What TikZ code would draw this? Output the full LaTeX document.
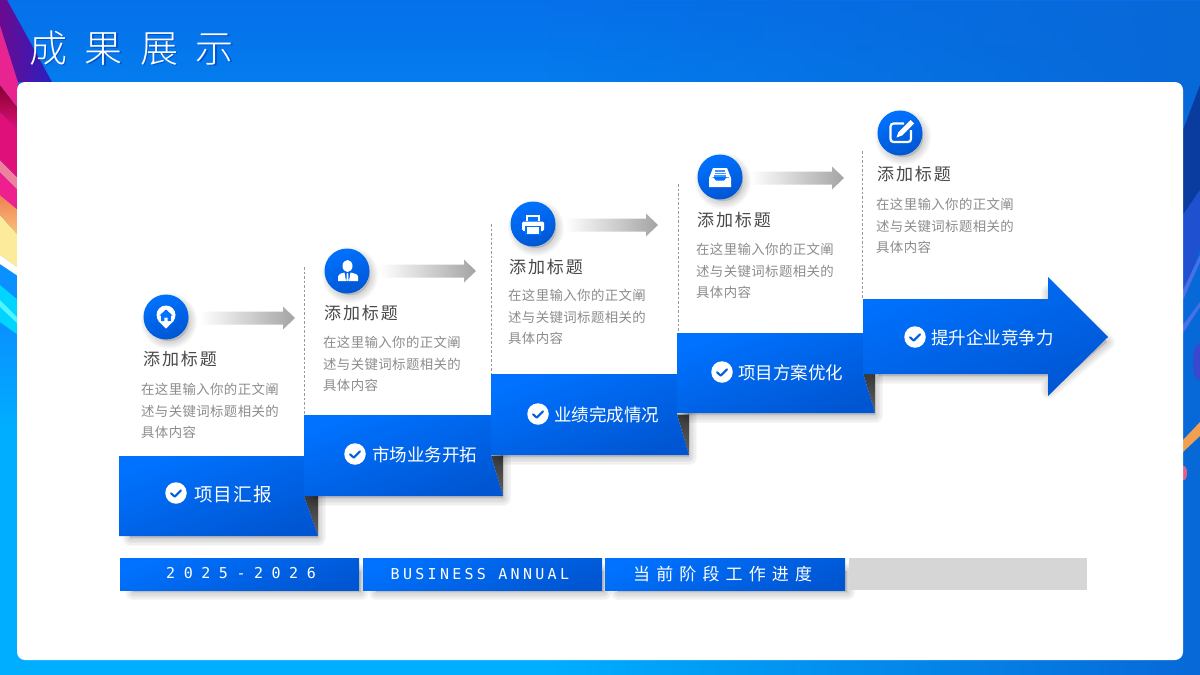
\documentclass[tikz,border=0pt]{standalone}
\usepackage{fontspec}
\usetikzlibrary{fadings,shadings}
\setmainfont{Noto Sans CJK SC}
\newfontfamily\ttl[LetterSpace=46]{Noto Sans CJK SC Light}
\newfontfamily\hd[LetterSpace=11]{Noto Sans CJK SC}
\newfontfamily\bd[LetterSpace=3]{Noto Sans CJK SC}
\newfontfamily\lb{Noto Sans CJK SC}
\newfontfamily\lbw[LetterSpace=6]{Noto Sans CJK SC}
\newfontfamily\bm[LetterSpace=36]{Noto Sans CJK SC}
\newfontfamily\dgt[LetterSpace=57]{DejaVu Sans Mono}
\newfontfamily\ltn[LetterSpace=22]{DejaVu Sans Mono}
\definecolor{bluetop}{HTML}{0072FF}
\definecolor{bluebot}{HTML}{0056D2}
\definecolor{bgtop}{HTML}{0570EA}
\definecolor{bgbot}{HTML}{00AEFF}
\definecolor{bgright}{HTML}{0868D8}
\definecolor{headc}{HTML}{484848}
\definecolor{bodyc}{HTML}{8C8C8C}
\tikzfading[name=fadeeast,left color=transparent!100,right color=transparent!0]
\tikzset{
  x=1pt,y=-1pt,
  bluefill/.style={top color=bluetop,bottom color=bluebot,shading angle=20,draw=none},
  head/.style={anchor=west,inner sep=0pt,text=headc,font=\hd\fontsize{17}{17}\selectfont},
  bodyt/.style={anchor=west,inner sep=0pt,text=bodyc,font=\bd\fontsize{13.4}{13.4}\selectfont},
  lab/.style={anchor=west,inner sep=0pt,text=white,font=\lb\fontsize{17.5}{17.5}\selectfont},
  barlab/.style={inner sep=0pt,text=white},
  dashln/.style={draw=black!40,line width=.8pt,dash pattern=on 2.5pt off 2pt},
  arrowgrad/.style={left color=white,middle color=black!14,right color=black!36,draw=none},
}
% soft shadow of a path: #1 dx, #2 dy, #3 path
\newcommand{\softsh}[3]{%
  \fill[black,opacity=.12,shift={(#1,#2)}] #3;
  \foreach \w in {16,13,10,7,4,1}{%
    \draw[black,opacity=.033,line width=\w pt,line join=round,shift={(#1,#2)}] #3;}}
\newcommand{\iconball}[3]{%
  \softsh{3}{4}{(#2,#3) circle[radius=20]}
  \node[circle,minimum size=45pt,inner sep=0pt,bluefill] (#1) at (#2,#3) {};}
\newcommand{\checkball}[3]{%
  \node[circle,fill=white,minimum size=21.5pt,inner sep=0pt] (#1) at (#2,#3) {};
  \draw[bluebot!70!bluetop,line width=2.1pt,line cap=round,line join=round,shift={(#2,#3)}] (-5,.3) -- (-1.3,3.6) -- (5,-2.6);}
\newcommand{\gradarrow}[4]{% name x0 x1 y
  \coordinate (#1) at (#3,#4);
  \path[arrowgrad] (#2,#4-6.5) -- (#3-12,#4-6.5) -- (#3-12,#4-11.5) -- (#3,#4) -- (#3-12,#4+11.5) -- (#3-12,#4+6.5) -- (#2,#4+6.5) -- cycle;}
\newcommand{\cardtext}[7]{% name title-x title-y body-x y1 y2 y3
  \node[head] (#1t) at (#2,#3) {添加标题};
  \node[bodyt] (#1a) at (#4,#5) {在这里输入你的正文阐};
  \node[bodyt] (#1b) at (#4,#6) {述与关键词标题相关的};
  \node[bodyt] (#1c) at (#4,#7) {具体内容};}
\newcommand{\stepblock}[5]{% x0 x1(fold) x2 y0 y1
  \pgfmathsetmacro{\ym}{(#4+#5)/2}
  \softsh{3}{5}{(#1+8,#4+8) -- (#3-3,#4+8) -- (#3-3,#5-3) -- (#1+8,#5-3) -- cycle}
  \path[top color=black!78,bottom color=black!62] (#2,\ym) -- (#3,\ym) -- (#3,#5) -- cycle;
  \path[bluefill] (#1,#4) -- (#2,#4) -- (#2,\ym) -- (#3,#5) -- (#1,#5) -- cycle;}
\begin{document}
\begin{tikzpicture}
\useasboundingbox (0,0) rectangle (1200,675);
% background
\fill[bgbot] (0,425) rectangle (1200,675);
\path[top color=bgtop,bottom color=bgbot] (0,0) rectangle (1200,430);
\fill[bgright,path fading=fadeeast] (550,0) rectangle (1200,675);
% left colours
\definecolor{cA}{HTML}{0A90FF}\definecolor{cB}{HTML}{00D4FF}\definecolor{cC}{HTML}{50F4FF}
\path[top color=cA,bottom color=bgbot] (0,322) -- (18,335) -- (18,430) -- (0,430) -- cycle;
\fill[cA] (0,264) -- (18,276) -- (18,300) -- (0,285) -- cycle;
\fill[cB] (0,285) -- (18,300) -- (18,335) -- (0,322) -- cycle;
\fill[cC] (0,300) -- (18,318) -- (18,324) -- (0,307) -- cycle;
\definecolor{cD}{HTML}{FCEB9A}\definecolor{cE}{HTML}{F07F55}\definecolor{cF}{HTML}{F8C478}
\fill[cD] (0,215) -- (18,235) -- (18,268) -- (0,255) -- cycle;
\fill[white] (0,255) -- (18,268) -- (18,276) -- (0,264) -- cycle;
\path[top color=cE,bottom color=cF] (0,195) -- (18,210) -- (18,235) -- (0,215) -- cycle;
\definecolor{cG}{HTML}{EE2090}\definecolor{cH}{HTML}{F080A0}\definecolor{cI}{HTML}{E0107A}\definecolor{cJ}{HTML}{85002E}
\fill[cG] (0,172) -- (18,190) -- (18,210) -- (0,195) -- cycle;
\fill[cH] (0,160) -- (18,178) -- (18,190) -- (0,172) -- cycle;
\fill[cI] (0,112) -- (18,130) -- (18,178) -- (0,160) -- cycle;
\path[top color=cJ,bottom color=cI] (0,85) -- (18,108) -- (18,130) -- (0,112) -- cycle;
\definecolor{cK}{HTML}{E82490}\definecolor{cL}{HTML}{6A0A90}\definecolor{cM}{HTML}{2A20C0}
\fill[cK] (0,25) -- (18,82) -- (18,108) -- (0,85) -- cycle;
\path[left color=cL,right color=cM] (0,0) -- (7,0) -- (52,82) -- (18,82) -- (0,25) -- cycle;
% right colours
\definecolor{rA}{HTML}{0A3CA0}\definecolor{rB}{HTML}{1E50D0}\definecolor{rC}{HTML}{4A70E8}\definecolor{rD}{HTML}{5A35C8}\definecolor{rE}{HTML}{F0A050}\definecolor{rF}{HTML}{E0608A}
\fill[rA] (1183,130) -- (1200,85) -- (1200,190) -- (1183,215) -- cycle;
\fill[rB] (1183,215) -- (1200,190) -- (1200,250) -- (1183,295) -- cycle;
\fill[rC] (1183,290) -- (1200,255) -- (1200,262) -- (1183,300) -- cycle;
\fill[rC] (1183,325) -- (1200,302) -- (1200,307) -- (1183,333) -- cycle;
\fill[rD,opacity=.6] (1198,362) ellipse[x radius=5,y radius=18];
\fill[rE] (1183,440) -- (1200,422) -- (1200,436) -- (1183,452) -- cycle;
\fill[rF] (1184,473) ellipse[x radius=3,y radius=7];
% panel
\fill[white,rounded corners=8pt] (17,82) rectangle (1183,660);
% title
\node[anchor=west,inner sep=0pt,text=black!50!blue,opacity=.3] at (30.5,49.5) {\ttl\fontsize{38}{38}\selectfont 成果展示};
\node[anchor=west,inner sep=0pt,text=white] (title) at (29,48) {\ttl\fontsize{38}{38}\selectfont 成果展示};
% dashed separators
\coordinate (d1a) at (304,267); \coordinate (d1b) at (304,415);
\coordinate (d2a) at (491,224); \coordinate (d2b) at (491,374);
\coordinate (d3a) at (678,184); \coordinate (d3b) at (678,333);
\coordinate (d4a) at (862,151); \coordinate (d4b) at (862,299);
\draw[dashln] (d1a) -- (d1b);
\draw[dashln] (d2a) -- (d2b);
\draw[dashln] (d3a) -- (d3b);
\draw[dashln] (d4a) -- (d4b);
% blocks
\stepblock{119}{304}{318}{456}{536}
\stepblock{304}{491}{503}{415}{496}
\stepblock{491}{677}{689}{374}{455}
\stepblock{677}{863}{875}{333}{413}
\softsh{4}{5}{(875,309) -- (1045,309) -- (1045,287) -- (1103,337) -- (1045,386) -- (1045,371) -- (875,371) -- cycle}
\path[bluefill] (863,299) -- (1048,299) -- (1048,277) -- (1108,337) -- (1048,396) -- (1048,374) -- (863,374) -- cycle;
% labels
\checkball{c1}{176}{493}
\node[lab,font=\lbw\fontsize{18.6}{18.6}\selectfont] (l1) at (194,494) {项目汇报};
\checkball{c2}{355}{454}
\node[lab] (l2) at (372,455) {市场业务开拓};
\checkball{c3}{538}{414}
\node[lab] (l3) at (554,415) {业绩完成情况};
\checkball{c4}{722}{372}
\node[lab] (l4) at (738,373) {项目方案优化};
\checkball{c5}{915}{337}
\node[lab] (l5) at (931,338) {提升企业竞争力};
% grey arrows
\gradarrow{a1}{200}{295}{318}
\gradarrow{a2}{380}{476}{271}
\gradarrow{a3}{565}{658}{225}
\gradarrow{a4}{750}{844}{178}
% icon balls
\iconball{i1}{166}{317}
\iconball{i2}{347}{271}
\iconball{i3}{533}{224}
\iconball{i4}{720}{177}
\iconball{i5}{900}{133}
% icon 1: pin with house
\fill[white] (166,315) circle[radius=9.5];
\fill[white] (158,320.5) -- (166,328.5) -- (174,320.5) -- cycle;
\fill[bluetop] (166,309.5) -- (172.5,315.5) -- (170.8,315.5) -- (170.8,321) -- (167.6,321) -- (167.6,317.5) -- (164.4,317.5) -- (164.4,321) -- (161.2,321) -- (161.2,315.5) -- (159.5,315.5) -- cycle;
% icon 2: person
\fill[white] (347.5,266) ellipse[x radius=5,y radius=6];
\fill[white] (338,281) -- (338,276.5) .. controls (338,274) and (341,273.5) .. (344.5,272.5) -- (346,281) -- cycle;
\fill[white] (358,281) -- (358,276.5) .. controls (358,274) and (354,273.5) .. (350.5,272.5) -- (349,281) -- cycle;
\fill[white] (346.8,273) -- (348.2,273) -- (348.6,281) -- (346.4,281) -- cycle;
% icon 3: printer
\fill[white] (526,214.5) rectangle (540,221);
\fill[bluetop] (528,216.5) rectangle (538,221);
\fill[white,rounded corners=1.5pt] (522,221.5) rectangle (544,231);
\fill[white,draw=bluetop,line width=1.2pt] (526,226.5) rectangle (540,234.5);
% icon 4: inbox
\fill[white] (713,168) -- (727,168) -- (731,178) -- (731,187) -- (709,187) -- (709,178) -- cycle;
\fill[bluetop] (713.5,177.5) -- (716,180.5) -- (724,180.5) -- (726.5,177.5) -- (729,177.5) -- (729,177) -- (711,177) -- cycle;
\fill[bluetop!75] (715,170) rectangle (725,171.5);
\fill[bluetop!75] (714.5,172.7) rectangle (725.5,174.2);
\fill[bluetop!75] (714,175.3) rectangle (726,176.8);
% icon 5: edit
\draw[white,line width=2.2pt,rounded corners=3pt] (904,123.5) -- (890.5,123.5) -- (890.5,142) -- (911,142) -- (911,130);
\fill[white] (910.5,120) -- (914,123.5) -- (902,135.5) -- (896.5,137.5) -- (898.5,132) -- cycle;
% card texts
\cardtext{s1}{143}{359}{141}{389}{411}{432}
\cardtext{s2}{324}{313}{323}{342}{364}{385}
\cardtext{s3}{509}{267}{508}{295}{317}{338}
\cardtext{s4}{697}{220}{696}{249}{271}{292}
\cardtext{s5}{877}{174}{876}{204}{226}{247}
% bottom bars
\softsh{5}{5}{(128,566) rectangle (356,587)}
\softsh{5}{5}{(371,566) rectangle (599,587)}
\softsh{5}{5}{(613,566) rectangle (842,587)}
\fill[black!16] (849,558) rectangle (1087,590);
\node[barlab,bluefill,minimum width=239pt,minimum height=32pt] (b1) at (239.5,574) {};
\node[barlab,bluefill,minimum width=239pt,minimum height=32pt] (b2) at (482.5,574) {};
\node[barlab,bluefill,minimum width=240pt,minimum height=32pt] (b3) at (725,574) {};
\node[barlab,anchor=west] at (166,573.5) {\dgt\fontsize{15}{15}\selectfont 2025-2026};
\node[barlab,anchor=west] at (390.5,574) {\ltn\fontsize{15}{15}\selectfont BUSINESS ANNUAL};
\node[barlab,anchor=west] at (633,574) {\bm\fontsize{17}{17}\selectfont 当前阶段工作进度};
\end{tikzpicture}
\end{document}
